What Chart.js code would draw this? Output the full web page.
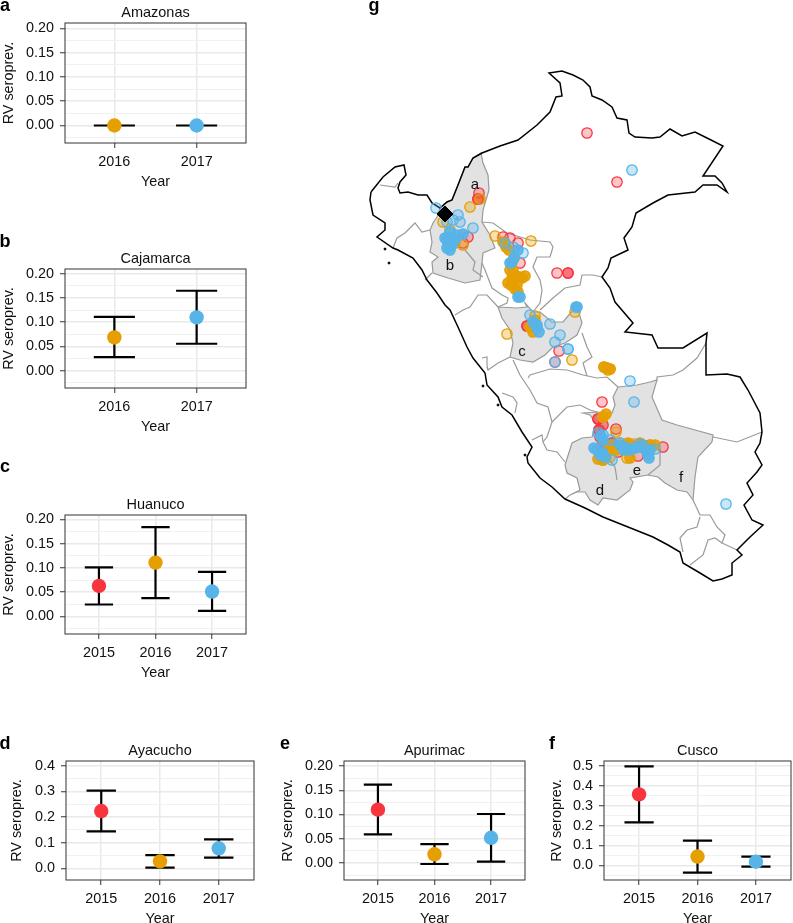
<!DOCTYPE html>
<html>
<head>
<meta charset="utf-8">
<style>
  body { margin: 0; background: #fff; font-family: "Liberation Sans", Arial, sans-serif; }
  #page { position: relative; width: 793px; height: 923px; overflow: hidden; }
  canvas { position: absolute; }
  .txt { position: absolute; transform: translate(-50%, -50%); color: #111; white-space: nowrap; }
  .letter { font-weight: bold; font-size: 18px; color: #000; }
  .title { font-size: 14.5px; }
  .region { font-size: 15px; }
</style>
<script src="https://cdn.jsdelivr.net/npm/chart.js@4"></script>
</head>
<body>
<div id="page"></div>
<script>
// Seroprevalence per department: point estimate and CI limits
const years2 = [2016, 2017];
const years3 = [2015, 2016, 2017];

const amazonasRate = [0, 0];
const amazonasLow = [0, 0];
const amazonasHigh = [0, 0];

const cajamarcaRate = [0.0685, 0.11];
const cajamarcaLow = [0.028, 0.0555];
const cajamarcaHigh = [0.111, 0.165];

const huanucoRate = [0.063, 0.111, 0.0514];
const huanucoLow = [0.0247, 0.0377, 0.0116];
const huanucoHigh = [0.101, 0.184, 0.0918];

const ayacuchoRate = [0.223, 0.027, 0.078];
const ayacuchoLow = [0.144, 0.003, 0.042];
const ayacuchoHigh = [0.303, 0.051, 0.113];

const apurimacRate = [0.11, 0.018, 0.052];
const apurimacLow = [0.059, -0.002, 0.003];
const apurimacHigh = [0.1615, 0.039, 0.101];

const cuscoRate = [0.357, 0.044, 0.018];
const cuscoLow = [0.216, -0.037, -0.007];
const cuscoHigh = [0.498, 0.124, 0.044];

const ticks020 = [0, 0.05, 0.1, 0.15, 0.2];
const ticks04 = [0, 0.1, 0.2, 0.3, 0.4];
const ticks05 = [0, 0.1, 0.2, 0.3, 0.4, 0.5];

const countryOutline = [[371,192],[383,177],[395,167],[404,165],[406,175],[400,182],[398,188],[400,193],[408,192],[418,195],[427,195],[432,203],[440,208],[447,202],[452,200],[458,185],[465,167],[468,167],[473,158],[482,153],[500,146],[518,140],[537,125],[550,112],[556,97],[562,96],[560,83],[549,73],[562,71],[573,75],[583,80],[590,87],[592,96],[602,100],[612,107],[617,118],[627,120],[629,133],[635,137],[652,138],[660,137],[670,129],[682,136],[695,132],[707,138],[723,146],[703,176],[715,176],[722,183],[727,192],[717,185],[703,185],[695,192],[668,195],[653,203],[636,213],[632,227],[624,238],[628,250],[611,258],[608,268],[602,277],[610,288],[615,302],[633,323],[625,332],[652,335],[658,348],[683,348],[707,333],[706,343],[706,375],[727,374],[740,377],[748,390],[760,413],[762,432],[760,443],[755,452],[762,465],[757,472],[747,483],[753,495],[744,505],[752,520],[763,525],[750,537],[737,550],[742,555],[732,563],[732,575],[722,579],[713,581],[700,573],[683,563],[680,552],[668,545],[653,537],[628,527],[603,517],[585,508],[565,499],[552,487],[540,478],[528,463],[527,457],[532,447],[522,432],[512,415],[502,407],[498,397],[487,385],[485,373],[473,358],[467,347],[458,327],[450,310],[445,305],[437,293],[427,280],[422,270],[413,258],[398,250],[393,248],[377,237],[385,230],[385,223],[373,215],[370,200],[371,192]];
const islands = [[385,249],[389,263],[483,386],[498,405],[525,455]];

const northShade = [[440,208],[447,202],[452,200],[458,185],[465,167],[468,167],[473,158],[481,153],[483,163],[488,175],[489,190],[483,210],[482,222],[490,235],[495,248],[483,253],[482,263],[480,280],[465,283],[455,280],[448,278],[433,273],[432,262],[438,257],[430,252],[432,242],[430,230],[433,223],[437,217],[440,208]];
const huanucoShade = [[498,307],[517,308],[527,307],[525,303],[533,312],[540,312],[552,322],[563,322],[568,316],[577,306],[582,323],[577,335],[565,343],[553,347],[545,355],[533,362],[520,360],[510,357],[513,343],[510,330],[502,318],[498,307]];
const southShade = [[618,387],[637,385],[650,382],[657,380],[652,397],[662,420],[677,425],[713,435],[712,442],[698,457],[695,477],[693,500],[687,492],[677,490],[665,483],[658,477],[648,475],[630,478],[633,482],[630,490],[617,500],[603,498],[598,505],[590,500],[585,492],[577,492],[570,495],[580,490],[577,478],[567,473],[565,465],[572,443],[582,438],[592,437],[597,425],[590,415],[583,413],[597,412],[612,413],[615,405],[613,397],[618,387]];

const deptLines = [
  [[380,185],[395,187],[398,183]],
  [[393,248],[397,238],[405,233],[415,223],[422,232],[430,230]],
  [[425,280],[432,273]],
  [[465,250],[475,262],[473,270],[483,277]],
  [[482,222],[493,223],[507,233],[530,240],[550,242],[553,247],[550,257],[537,257],[533,267],[540,280],[542,290],[540,303],[533,312]],
  [[482,263],[485,270],[492,288],[502,295],[508,298],[507,303],[498,307]],
  [[602,277],[593,275],[582,275],[580,285],[565,288],[553,298],[540,310]],
  [[455,315],[463,310],[470,307],[478,295],[487,295],[498,307]],
  [[487,367],[488,370],[498,363],[510,357]],
  [[482,358],[487,357],[487,365],[488,370]],
  [[513,360],[520,375],[530,390],[537,403],[548,407],[552,422],[547,437],[543,442],[547,450],[557,452],[565,462]],
  [[528,378],[530,375],[550,369],[567,370],[583,375],[597,378],[607,377],[618,387]],
  [[502,393],[513,397],[517,403],[515,413]],
  [[532,440],[542,435],[543,442]],
  [[552,422],[567,407],[580,405],[590,410],[597,412]],
  [[582,333],[587,347],[592,357],[583,363],[587,376]],
  [[657,380],[657,377],[673,375],[683,370],[697,358],[706,343]],
  [[713,437],[737,442],[762,432]],
  [[648,475],[660,465],[660,450],[650,445]],
  [[617,480],[615,467],[605,455]],
  [[570,495],[565,499]],
  [[693,500],[700,515],[710,515],[717,527],[725,535],[722,543],[737,550]],
  [[700,517],[697,527],[687,530],[680,538],[683,552]],
  [[722,543],[715,538],[708,540],[703,555],[690,565]]
];

const redSites = [[587,133],[617,182],[557,273],[568,273],[479,193],[478,199],[503,237],[510,238],[518,243],[520,263],[468,237],[463,243],[527,326],[559,351],[555,362],[602,402],[598,419],[616,429],[599,430],[663,447],[638,456],[612,443],[630,445],[603,442],[600,437],[618,452]];
const redDense = [[568,273],[478,199],[598,419],[599,430],[612,443],[527,326],[603,425],[606,445]];
const orangeSites = [[470,207],[480,199],[495,236],[531,241],[463,245],[443,222],[450,230],[448,240],[455,243],[507,334],[535,316],[530,327],[572,360],[575,312],[604,367],[607,368],[610,369],[608,370],[603,417],[616,432],[612,445],[603,460],[627,458],[650,445],[642,445],[620,443],[608,450],[513,280],[505,243],[610,457],[634,444]];
const orangeDense = [[503,242],[506,247],[510,270],[512,262],[512,278],[517,285],[525,276],[508,283],[515,289],[520,277],[513,270],[516,276],[511,285],[518,292],[522,278],[514,258],[509,250],[533,332],[530,327],[535,320],[604,367],[607,368],[610,369],[603,417],[606,414],[612,445],[603,460],[608,450],[625,447],[650,445],[616,450],[606,457],[598,459],[630,458],[640,443],[628,443],[645,447],[655,445]];
const blueSites = [[632,170],[726,504],[630,381],[634,402],[550,324],[560,335],[555,342],[568,349],[555,362],[530,315],[436,208],[473,228],[458,215],[460,222],[447,222],[453,220],[505,243],[513,247],[523,253],[655,449],[612,460],[598,433],[603,435],[643,445],[568,349],[620,443],[640,444],[610,440]];
const blueDense = [[576,307],[577,307],[537,325],[539,332],[537,328],[533,322],[448,237],[457,235],[463,234],[448,243],[450,250],[452,245],[445,238],[447,248],[455,240],[450,232],[518,250],[512,262],[510,263],[514,258],[520,297],[518,297],[597,450],[602,452],[600,455],[605,457],[594,448],[620,445],[627,448],[635,448],[630,450],[624,450],[640,447],[648,455],[647,452],[650,450],[649,458],[601,436],[603,440]];
const diamondSite = [[445,214]];

const regionLabels = ['a', 'b', 'c', 'd', 'e', 'f'];
const regionX = [475, 450, 522, 600, 637, 681];
const regionY = [183, 264, 350, 489, 469, 476];

const RED = '#F8353F', ORANGE = '#E69F00', BLUE = '#56B4E9';
const yearColor = { 2015: RED, 2016: ORANGE, 2017: BLUE };
const page = document.getElementById('page');

function addText(text, x, y, cls) {
  const el = document.createElement('div');
  el.className = 'txt ' + cls;
  el.textContent = text;
  el.style.left = x + 'px';
  el.style.top = y + 'px';
  page.appendChild(el);
}

function addCanvas(left, top, w, h) {
  const c = document.createElement('canvas');
  c.width = w;
  c.height = h;
  c.style.left = left + 'px';
  c.style.top = top + 'px';
  c.style.width = w + 'px';
  c.style.height = h + 'px';
  page.appendChild(c);
  return c.getContext('2d');
}

// ggplot style frame round the plot area
const panelBorder = {
  id: 'panelBorder',
  afterDraw(chart) {
    const { ctx, chartArea: a } = chart;
    ctx.save();
    ctx.strokeStyle = '#333';
    ctx.lineWidth = 1;
    ctx.strokeRect(a.left, a.top, a.right - a.left, a.bottom - a.top);
    ctx.restore();
  }
};

function isMajor(value, majors) {
  return majors.some(m => Math.abs(m - value) < 1e-6);
}

// box = plot frame on the page: left, top, right, bottom
function seroPanel(p) {
  const canvasLeft = p.axisLeft;
  const canvasTop = p.box[1] - 20;
  const w = p.box[2] - canvasLeft + 20;
  const h = p.box[3] - canvasTop + 48;
  const ctx = addCanvas(canvasLeft, canvasTop, w, h);

  const capHalf = 0.25;
  const step = p.yTicks[1] - p.yTicks[0];
  const allTicks = [];
  for (let i = -1; i < p.yTicks.length * 2; i++) {
    const v = p.yTicks[0] + i * step / 2;
    if (v > p.yMin && v < p.yMax) allTicks.push(v);
  }

  const datasets = [];
  // first dataset sits on top
  p.years.forEach((yr, i) => {
    datasets.push({
      data: [{ x: yr, y: p.rate[i] }],
      backgroundColor: yearColor[yr],
      borderColor: yearColor[yr],
      pointRadius: 7.2,
      pointBorderWidth: 0,
      showLine: false
    });
  });
  p.years.forEach((yr, i) => {
    datasets.push({
      data: [
        { x: yr - capHalf, y: p.high[i] }, { x: yr + capHalf, y: p.high[i] },
        { x: yr, y: p.high[i] }, { x: yr, y: p.low[i] },
        { x: yr - capHalf, y: p.low[i] }, { x: yr + capHalf, y: p.low[i] }
      ],
      borderColor: '#000',
      borderWidth: 2.2,
      pointRadius: 0,
      showLine: true
    });
  });

  new Chart(ctx, {
    type: 'scatter',
    data: { datasets },
    plugins: [panelBorder],
    options: {
      responsive: false,
      animation: false,
      layout: { autoPadding: false, padding: { top: 20, right: 20, left: 0, bottom: 0 } },
      plugins: { legend: { display: false }, tooltip: { enabled: false } },
      scales: {
        x: {
          type: 'linear',
          min: p.years[0] - 0.6,
          max: p.years[p.years.length - 1] + 0.6,
          afterBuildTicks: s => { s.ticks = p.years.map(v => ({ value: v })); },
          afterFit: s => { s.height = 48; },
          ticks: { color: '#111', font: { size: 14.4 }, padding: 5, maxRotation: 0, autoSkip: false, callback: v => String(v) },
          grid: { color: '#e9e9e9', lineWidth: 1.5, tickLength: 5, tickColor: '#333', tickWidth: 1 },
          border: { display: false },
          title: { display: true, text: 'Year', color: '#111', font: { size: 14.4 }, padding: { top: 0, bottom: 0 } }
        },
        y: {
          min: p.yMin,
          max: p.yMax,
          afterBuildTicks: s => { s.ticks = allTicks.map(v => ({ value: v })); },
          afterFit: s => { s.width = p.box[0] - canvasLeft; },
          ticks: {
            color: '#111',
            font: { size: 14.4 },
            padding: 6,
            autoSkip: false,
            callback: v => isMajor(v, p.yTicks) ? v.toFixed(p.digits) : ''
          },
          grid: {
            color: c => isMajor(c.tick.value, p.yTicks) ? '#e9e9e9' : '#f1f1f1',
            lineWidth: c => isMajor(c.tick.value, p.yTicks) ? 1.5 : 1,
            tickLength: 5,
            tickColor: c => isMajor(c.tick.value, p.yTicks) ? '#333' : 'rgba(0,0,0,0)',
            tickWidth: 1
          },
          border: { display: false },
          title: { display: true, text: 'RV seroprev.', color: '#111', font: { size: 14.4 }, padding: { top: 0, bottom: 0 } }
        }
      }
    }
  });
  addText(p.title, (p.box[0] + p.box[2]) / 2, p.box[1] - 11.5, 'title');
}

seroPanel({ title: 'Amazonas', box: [65, 23, 246, 143], axisLeft: 0, years: years2, rate: amazonasRate, low: amazonasLow, high: amazonasHigh, yTicks: ticks020, yMin: -0.036, yMax: 0.211, digits: 2 });
seroPanel({ title: 'Cajamarca', box: [65, 269, 246, 388], axisLeft: 0, years: years2, rate: cajamarcaRate, low: cajamarcaLow, high: cajamarcaHigh, yTicks: ticks020, yMin: -0.036, yMax: 0.21, digits: 2 });
seroPanel({ title: 'Huanuco', box: [65, 515, 246, 634], axisLeft: 0, years: years3, rate: huanucoRate, low: huanucoLow, high: huanucoHigh, yTicks: ticks020, yMin: -0.036, yMax: 0.209, digits: 2 });
seroPanel({ title: 'Ayacucho', box: [66, 761, 254, 880], axisLeft: 8, years: years3, rate: ayacuchoRate, low: ayacuchoLow, high: ayacuchoHigh, yTicks: ticks04, yMin: -0.0455, yMax: 0.418, digits: 1 });
seroPanel({ title: 'Apurimac', box: [344, 761, 525, 880], axisLeft: 279, years: years3, rate: apurimacRate, low: apurimacLow, high: apurimacHigh, yTicks: ticks020, yMin: -0.035, yMax: 0.2103, digits: 2 });
seroPanel({ title: 'Cusco', box: [604, 761, 791, 880], axisLeft: 548, years: years3, rate: cuscoRate, low: cuscoLow, high: cuscoHigh, yTicks: ticks05, yMin: -0.074, yMax: 0.525, digits: 1 });

// Map panel
const toPts = arr => arr.map(([x, y]) => ({ x, y }));

function siteSet(sites, color, fill) {
  return {
    data: toPts(sites),
    backgroundColor: fill,
    borderColor: color,
    pointRadius: 5.2,
    pointBorderWidth: 1.3,
    showLine: false
  };
}

function lineSet(path, color, width) {
  return { data: toPts(path), borderColor: color, borderWidth: width, pointRadius: 0, showLine: true, tension: 0 };
}

function shadeSet(path) {
  return { data: toPts(path), borderColor: '#9a9a9a', borderWidth: 1.2, backgroundColor: '#e2e2e2', fill: 'shape', pointRadius: 0, showLine: true };
}

const mapCtx = addCanvas(340, 0, 453, 610);
new Chart(mapCtx, {
  type: 'scatter',
  data: {
    datasets: [
      { data: toPts(diamondSite), pointStyle: 'rectRot', pointRadius: 8, backgroundColor: '#000', borderColor: '#000', showLine: false },
      siteSet(blueDense, BLUE, 'rgba(86,180,233,0.9)'),
      siteSet(blueSites, BLUE, 'rgba(86,180,233,0.32)'),
      siteSet(orangeDense, ORANGE, 'rgba(230,159,0,0.9)'),
      siteSet(orangeSites, ORANGE, 'rgba(230,159,0,0.32)'),
      siteSet(redDense, RED, 'rgba(248,53,63,0.55)'),
      siteSet(redSites, RED, 'rgba(248,53,63,0.28)'),
      { data: toPts(islands), pointRadius: 1, backgroundColor: '#000', borderColor: '#000', showLine: false },
      lineSet(countryOutline, '#000', 1.5),
      ...deptLines.map(l => lineSet(l, '#9a9a9a', 1.2)),
      shadeSet(northShade),
      shadeSet(huanucoShade),
      shadeSet(southShade)
    ]
  },
  options: {
    responsive: false,
    animation: false,
    layout: { autoPadding: false, padding: 0 },
    plugins: { legend: { display: false }, tooltip: { enabled: false } },
    scales: {
      x: { type: 'linear', display: false, min: 340, max: 793 },
      y: { type: 'linear', display: false, min: 0, max: 610, reverse: true }
    }
  }
});

regionLabels.forEach((t, i) => addText(t, regionX[i], regionY[i], 'region'));

addText('a', 5, 5, 'letter');
addText('b', 5, 241, 'letter');
addText('c', 5, 466, 'letter');
addText('d', 5, 743, 'letter');
addText('e', 285, 743, 'letter');
addText('f', 552, 743, 'letter');
addText('g', 374, 5, 'letter');
</script>
</body>
</html>
